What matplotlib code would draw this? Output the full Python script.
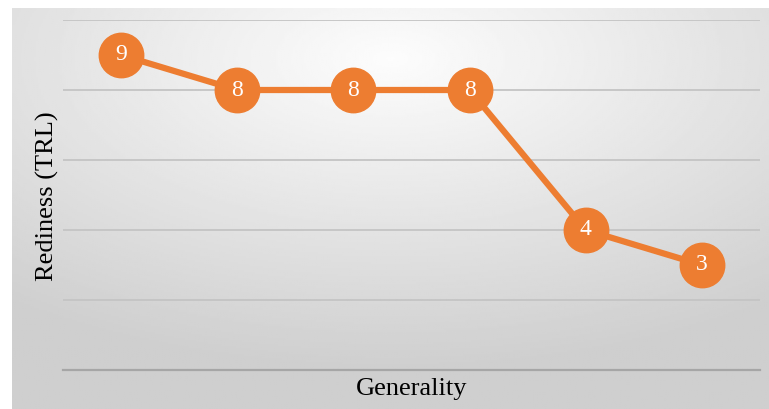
import numpy as np
import matplotlib
matplotlib.use("Agg")
import matplotlib.pyplot as plt

# data
positions = [0, 1, 2, 3, 4, 5]
readiness = [9, 8, 8, 8, 4, 3]
x_label = "Generality"
y_label = "Rediness (TRL)"

orange = "#ED7D31"
W, H = 769, 409

fig = plt.figure(figsize=(W / 100, H / 100), dpi=100)
fig.patch.set_facecolor("white")

# gradient panel behind the plot (light centre near the top, grey edges)
bg = fig.add_axes([12 / W, 0, 1 - 12 / W, 1 - 8 / H])
gx, gy = np.meshgrid(np.linspace(-1, 1, 400), np.linspace(-1, 1, 200))
r = np.sqrt((gx * 0.85) ** 2 + ((gy + 0.75) * 0.9) ** 2)
shade = 0.99 - 0.18 * np.clip(r / 1.4, 0, 1)
bg.imshow(shade, cmap="gray", vmin=0, vmax=1, aspect="auto",
          extent=[0, 1, 0, 1], origin="upper")
bg.axis("off")

ax = fig.add_axes([63 / W, 1 - 370 / H, (760 - 63) / W, 350 / H])
ax.patch.set_alpha(0)
ax.set_xlim(-0.5, 5.5)
ax.set_ylim(0, 10)
ax.set_yticks([0, 2, 4, 6, 8, 10])
ax.set_xticks([])
ax.tick_params(axis="y", length=0, labelleft=False)
ax.grid(axis="y", color="#c4c4c4", lw=1.3)
for s in ["top", "right", "left"]:
    ax.spines[s].set_visible(False)
ax.spines["bottom"].set_color("#a6a6a6")
ax.spines["bottom"].set_linewidth(1.6)
ax.set_axisbelow(True)

ax.plot(positions, readiness, color=orange, lw=4.5, marker="o",
        markersize=32, markerfacecolor=orange, markeredgecolor=orange,
        zorder=3, solid_capstyle="round")
for x, v in zip(positions, readiness):
    ax.text(x, v, str(v), color="white", ha="center", va="center",
            fontsize=17, family="Liberation Serif", zorder=4)

fig.text(0.5 * (63 + 760) / W, 1 - 389 / H, x_label, ha="center", va="center",
         fontsize=19, family="Liberation Serif")
fig.text(47 / W, 1 - 196 / H, y_label, ha="center", va="center",
         rotation=90, fontsize=19, family="Liberation Serif")

fig.savefig("out.png", dpi=100)
